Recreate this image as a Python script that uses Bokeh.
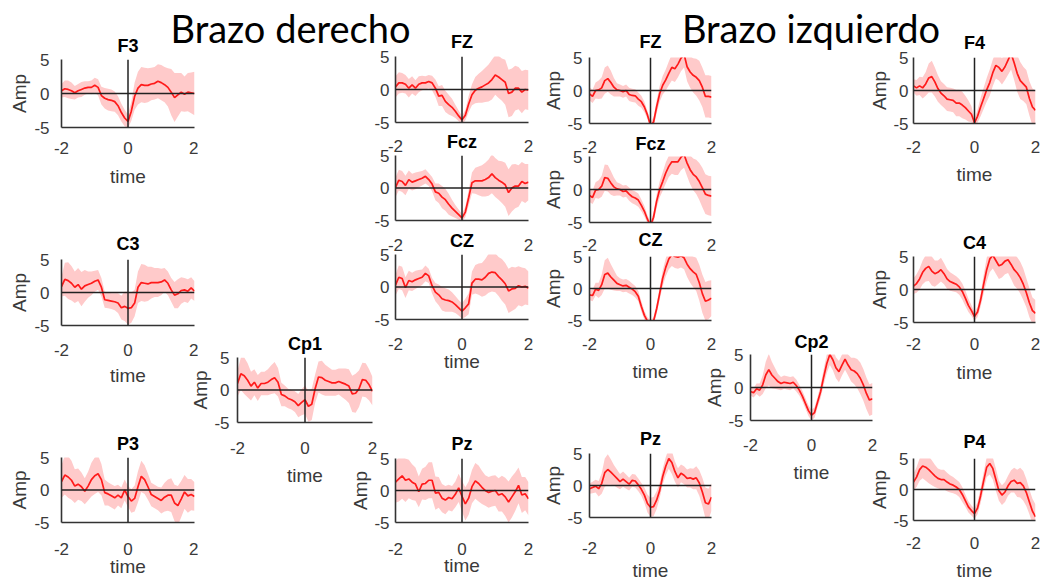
from bokeh.plotting import figure
from bokeh.layouts import column, row
from bokeh.models import Label, Span, ColumnDataSource, FixedTicker, Range1d
from bokeh.embed import file_html
from bokeh.resources import INLINE

TIME = [-2.0, -1.9, -1.8, -1.7, -1.6, -1.5, -1.4, -1.3, -1.2, -1.1, -1.0,
        -0.9, -0.8, -0.7, -0.6, -0.5, -0.4, -0.3, -0.2, -0.1,
        0.0, 0.1, 0.2, 0.3, 0.4, 0.5, 0.6, 0.7, 0.8, 0.9,
        1.0, 1.1, 1.2, 1.3, 1.4, 1.5, 1.6, 1.7, 1.8, 1.9, 2.0]
X_TICKS = [-2, 0, 2]
X_TICKS_STACKED = [-2, 2]
Y_TICKS = [-5, 0, 5]
GROUP_TITLES = ["Brazo derecho", "Brazo izquierdo"]

F3_MEAN = [0.4, 0.7, 0.6, 0.4, 0.1, 0.4, 0.6, 0.8, 0.9, 0.9, 1.2,
           0.9, -0.3, -0.7, -0.9, -1.0, -1.2, -1.8, -2.8, -3.6,
           -4.1, -2.6, -0.4, 0.8, 1.3, 1.2, 1.2, 1.4, 1.5, 1.8,
           1.6, 1.3, 0.9, 0.2, -0.6, -0.2, 0.2, -0.1, 0.2, 0.1, 0.0]
F3_SPREAD = [1.0, 1.2, 1.3, 1.2, 1.0, 1.0, 1.1, 1.0, 0.9, 1.0, 1.1,
             1.2, 1.3, 1.5, 1.6, 1.6, 1.5, 1.4, 1.3, 1.2,
             1.0, 1.4, 2.0, 2.4, 2.6, 2.6, 2.5, 2.4, 2.4, 2.5,
             2.6, 2.6, 2.8, 3.4, 3.6, 3.2, 2.8, 2.6, 2.8, 3.0, 3.2]

C3_MEAN = [0.9, 2.0, 1.8, 1.4, 0.8, 1.2, 0.5, 1.0, 1.2, 1.4, 1.7,
           1.9, 0.8, -1.1, -1.2, -1.3, -1.4, -1.6, -2.3, -2.1,
           -2.4, -2.3, -1.6, 0.8, 1.5, 1.4, 1.3, 1.5, 1.5, 1.5,
           1.6, 1.9, 1.4, 0.4, -0.4, -0.2, 0.3, 0.4, 0.2, 0.7, 0.2]
C3_SPREAD = [1.5, 2.5, 2.8, 2.6, 2.4, 2.5, 2.6, 2.4, 2.0, 1.8, 1.6,
             1.5, 1.4, 1.2, 1.2, 1.2, 1.3, 1.5, 1.8, 2.2,
             2.5, 2.3, 2.0, 2.4, 2.8, 2.8, 2.6, 2.4, 2.2, 2.2,
             2.0, 1.8, 1.8, 1.8, 2.0, 2.2, 2.0, 1.8, 1.8, 1.6, 1.5]

P3_MEAN = [1.3, 2.3, 2.0, 1.5, 0.6, 0.9, 0.5, -0.2, 0.6, 1.6, 2.2,
           2.5, 1.6, -0.4, -0.6, -0.9, -1.2, -0.8, -1.2, 0.0,
           -1.0, -1.7, -1.3, 0.5, 2.1, 1.6, 0.5, -0.7, -1.0, -1.3,
           -1.6, -1.1, -0.8, -0.8, -2.0, -2.4, -1.4, -0.3, -0.9, -0.7, -1.0]
P3_SPREAD = [2.5, 3.0, 3.2, 3.0, 2.6, 2.4, 2.2, 2.0, 2.2, 2.6, 2.8,
             2.8, 2.4, 2.0, 1.8, 1.8, 1.8, 1.6, 1.6, 1.6,
             1.6, 1.8, 2.0, 2.4, 2.4, 2.2, 2.0, 1.8, 1.8, 1.8,
             2.0, 2.2, 2.4, 2.6, 2.8, 3.0, 2.8, 2.6, 2.6, 2.4, 2.2]

CP1_MEAN = [1.0, 2.5, 2.2, 1.5, 0.6, 1.2, 0.3, 1.0, 1.0, 1.2, 1.6,
            1.9, 1.2, -0.7, -0.9, -1.3, -1.5, -1.8, -2.4, -1.9,
            -1.5, -2.5, -2.2, 0.2, 2.0, 1.9, 1.5, 1.3, 1.1, 1.1,
            1.3, 1.1, 0.9, 0.6, -0.6, -0.5, 0.2, 1.6, 1.5, 0.8, -0.2]
CP1_SPREAD = [2.0, 2.5, 2.8, 2.6, 2.2, 2.0, 2.0, 1.8, 1.8, 2.0, 2.2,
              2.4, 2.2, 1.8, 1.6, 1.5, 1.5, 1.6, 1.8, 2.0,
              2.2, 2.4, 2.4, 2.2, 2.4, 2.6, 2.4, 2.2, 2.0, 2.0,
              2.0, 2.2, 2.4, 2.6, 2.8, 3.0, 2.8, 2.6, 2.6, 2.4, 2.2]

FZ_R_MEAN = [0.4, 1.0, 1.0, 0.8, 0.2, 0.7, 0.2, 0.8, 1.0, 1.0, 1.2,
             1.0, 0.2, -1.0, -0.9, -1.8, -2.3, -2.7, -3.3, -4.0,
             -4.6, -3.9, -2.2, -0.8, -0.1, 0.2, 0.4, 0.7, 1.0, 1.5,
             2.2, 1.9, 1.5, 1.1, -0.6, -0.4, 0.2, 0.2, -0.4, 0.0, -0.1]
FZ_R_SPREAD = [1.6, 1.6, 1.5, 1.4, 1.4, 1.3, 1.2, 1.2, 1.1, 1.0, 1.0,
               1.1, 1.3, 1.5, 1.6, 1.6, 1.5, 1.3, 1.0, 0.8,
               0.6, 0.8, 1.2, 1.6, 2.0, 2.2, 2.4, 2.6, 2.8, 3.0,
               3.0, 3.2, 3.2, 3.4, 3.6, 3.6, 3.4, 3.2, 3.2, 3.0, 3.0]

FCZ_R_MEAN = [0.1, 1.2, 1.0, 0.4, 1.3, 0.9, 1.1, 1.3, 1.5, 1.8, 1.3,
              0.6, -0.6, -0.8, -1.4, -1.8, -2.5, -3.1, -3.6, -4.1,
              -4.6, -3.7, -1.5, 0.8, 1.1, 1.1, 1.1, 1.3, 1.6, 2.2,
              1.6, 1.2, 0.9, 0.5, -0.7, 0.0, 0.3, 0.3, 1.0, 0.7, 0.9]
FCZ_R_SPREAD = [1.5, 1.6, 1.6, 1.5, 1.4, 1.3, 1.3, 1.2, 1.1, 1.1, 1.0,
                1.1, 1.3, 1.5, 1.7, 1.7, 1.6, 1.3, 1.0, 0.8,
                0.6, 0.8, 1.2, 1.6, 2.0, 2.2, 2.4, 2.6, 2.8, 3.0,
                3.0, 3.0, 3.2, 3.4, 3.6, 3.6, 3.4, 3.2, 3.0, 3.0, 2.8]

CZ_R_MEAN = [0.3, 1.5, 1.3, -0.1, 1.0, 0.8, 1.1, 1.3, 1.5, 2.1, 1.7,
             0.2, -0.8, -1.2, -1.8, -2.0, -2.1, -2.3, -2.7, -3.2,
             -3.7, -3.2, -2.6, 0.6, 1.2, 1.2, 1.1, 1.5, 2.1, 2.3,
             2.2, 1.6, 1.1, 0.5, -0.6, -0.3, -0.2, 0.2, 0.0, 0.1, -0.2]
CZ_R_SPREAD = [1.6, 1.8, 1.8, 1.6, 1.5, 1.4, 1.4, 1.3, 1.2, 1.2, 1.1,
               1.2, 1.4, 1.6, 1.8, 1.8, 1.7, 1.5, 1.3, 1.2,
               1.2, 1.4, 1.6, 1.8, 2.2, 2.4, 2.6, 2.8, 3.0, 3.0,
               3.0, 3.0, 3.2, 3.2, 3.4, 3.4, 3.2, 3.0, 3.0, 2.8, 2.6]

PZ_R_MEAN = [1.3, 1.8, 2.3, 1.6, 1.8, 1.3, 1.0, -0.2, 1.0, 1.1, 1.6,
             1.6, -0.4, -0.3, -1.2, -1.5, -1.1, -1.3, -0.6, 0.4,
             -0.9, -2.1, -1.2, 0.6, 1.5, 1.1, 0.5, 0.0, -0.3, -0.1,
             0.0, -0.7, -0.5, -1.0, -1.8, -1.0, -0.2, 0.8, -0.7, -0.5, -1.3]
PZ_R_SPREAD = [3.2, 3.5, 3.6, 3.4, 3.0, 2.8, 2.6, 2.4, 2.4, 2.6, 2.8,
               2.8, 2.6, 2.4, 2.2, 2.2, 2.0, 2.0, 2.0, 2.2,
               2.4, 2.6, 2.6, 2.6, 2.8, 2.8, 2.6, 2.4, 2.4, 2.4,
               2.4, 2.6, 2.8, 3.0, 3.2, 3.2, 3.0, 2.8, 2.8, 2.6, 2.6]

FZ_L_MEAN = [-0.5, -0.9, 0.0, 0.1, 0.4, 1.5, 1.8, 1.2, 0.5, 0.1, 0.0,
             -0.2, 0.0, -0.6, -0.75, -0.8, -1.3, -1.7, -2.5, -3.7,
             -5.3, -4.8, -2.5, -0.5, 0.8, 1.6, 2.6, 3.5, 3.3, 4.0,
             4.9, 5.5, 3.6, 2.8, 2.3, 2.0, 1.5, 0.5, -0.9, -0.9, -1.0]
FZ_L_SPREAD = [1.0, 1.0, 1.2, 1.4, 1.6, 2.0, 2.0, 1.8, 1.4, 1.0, 0.9,
               0.9, 0.9, 1.0, 1.0, 1.0, 1.0, 0.9, 0.8, 0.6,
               0.5, 0.8, 1.0, 1.2, 1.4, 1.6, 1.8, 2.0, 2.0, 2.0,
               2.0, 2.0, 2.2, 2.4, 2.6, 2.8, 3.0, 3.0, 3.2, 3.2, 3.2]

FCZ_L_MEAN = [-0.9, -1.2, -0.1, 0.0, 0.5, 1.8, 1.7, 1.0, 0.4, 0.1, 0.0,
              -0.3, -0.2, -0.7, -1.1, -1.3, -1.6, -2.4, -3.3, -4.5,
              -5.5, -4.2, -1.8, 0.0, 1.2, 2.5, 3.5, 4.2, 4.2, 4.2,
              4.9, 5.3, 4.0, 3.0, 2.3, 1.9, 1.2, 0.3, -0.7, -0.9, -1.0]
FCZ_L_SPREAD = [1.0, 1.0, 1.2, 1.4, 1.6, 2.0, 2.0, 1.8, 1.4, 1.0, 0.9,
                0.9, 0.9, 1.0, 1.0, 1.0, 1.0, 0.9, 0.8, 0.6,
                0.5, 0.8, 1.0, 1.2, 1.4, 1.6, 1.6, 1.8, 2.0, 2.0,
                2.0, 2.0, 2.0, 2.2, 2.4, 2.6, 2.8, 3.0, 3.0, 3.0, 3.0]

CZ_L_MEAN = [-1.0, -1.1, -0.1, -0.3, 0.6, 2.2, 2.4, 1.8, 1.3, 0.8, 0.6,
             0.4, 0.5, 0.2, -0.1, -0.5, -1.2, -2.8, -4.2, -5.1,
             -5.5, -5.1, -3.2, -0.8, 1.6, 3.3, 4.6, 5.3, 5.0, 4.9,
             5.1, 4.8, 3.8, 3.1, 2.6, 2.2, 0.9, -0.8, -2.0, -1.8, -1.5]
CZ_L_SPREAD = [0.8, 0.9, 1.0, 1.2, 1.6, 2.2, 2.4, 2.0, 1.6, 1.2, 1.0,
               1.0, 1.0, 1.0, 0.9, 0.9, 0.8, 0.8, 0.7, 0.6,
               0.5, 0.6, 0.8, 1.0, 1.2, 1.4, 1.6, 1.8, 1.8, 1.8,
               1.8, 1.8, 2.0, 2.2, 2.4, 2.6, 2.8, 3.0, 3.0, 3.0, 2.8]

PZ_L_MEAN = [-0.5, -0.3, -0.1, -0.5, 0.3, 2.0, 2.5, 2.1, 1.6, 1.1, 0.6,
             1.0, 0.6, 0.2, 0.8, 0.7, 0.1, -0.6, -1.5, -2.8,
             -3.4, -3.3, -2.3, -0.8, 1.4, 3.0, 4.2, 3.6, 2.2, 1.2,
             1.9, 1.6, 1.1, 1.2, 1.0, 1.2, 0.4, -1.0, -2.7, -2.9, -1.8]
PZ_L_SPREAD = [0.8, 0.9, 1.0, 1.2, 1.6, 2.2, 2.4, 2.0, 1.6, 1.4, 1.2,
               1.2, 1.1, 1.0, 1.0, 1.0, 1.0, 1.0, 1.2, 1.4,
               1.5, 1.5, 1.4, 1.2, 1.2, 1.4, 1.6, 1.8, 1.6, 1.5,
               1.4, 1.4, 1.4, 1.5, 1.6, 1.8, 2.0, 2.2, 2.4, 2.4, 2.2]

CP2_MEAN = [-0.6, -0.8, -0.2, -0.4, 0.4, 1.9, 2.7, 1.9, 1.4, 0.9, 0.6,
            0.8, 0.7, 0.6, 0.8, 0.3, -0.4, -1.3, -2.4, -3.5,
            -4.2, -3.8, -2.2, -0.6, 1.6, 3.6, 5.0, 4.2, 3.0, 2.4,
            3.4, 4.3, 3.4, 2.7, 2.5, 2.1, 1.4, 0.4, -0.9, -1.9, -1.7]
CP2_SPREAD = [0.6, 0.7, 0.8, 1.0, 1.4, 2.0, 2.4, 2.0, 1.6, 1.2, 1.0,
              1.0, 1.0, 1.0, 0.9, 0.9, 0.8, 0.8, 0.8, 0.8,
              0.8, 0.8, 0.8, 1.0, 1.2, 1.4, 1.6, 1.6, 1.6, 1.6,
              1.6, 1.6, 1.6, 1.8, 2.0, 2.2, 2.4, 2.4, 2.4, 2.4, 2.4]

F4_MEAN = [0.7, 0.4, 0.7, 0.4, 1.0, 1.9, 2.1, 1.3, 0.3, -0.4, -0.8,
           -1.3, -1.4, -1.5, -1.9, -1.9, -2.2, -2.6, -3.1, -3.6,
           -4.9, -3.9, -2.5, -1.2, 0.1, 1.2, 2.7, 3.8, 3.5, 2.9,
           3.6, 4.6, 5.6, 4.2, 2.6, 1.5, 1.0, 0.5, -1.2, -2.5, -3.0]
F4_SPREAD = [1.0, 1.2, 1.4, 1.6, 1.8, 2.2, 2.4, 2.2, 2.0, 1.8, 1.8,
             1.8, 1.8, 1.8, 2.0, 2.0, 2.0, 1.8, 1.6, 1.2,
             0.6, 1.0, 1.4, 1.6, 1.8, 2.0, 2.0, 2.0, 2.0, 2.0,
             2.0, 2.2, 2.4, 2.6, 2.8, 2.8, 2.6, 2.6, 2.6, 2.8, 3.0]

C4_MEAN = [0.5, 0.9, 1.6, 2.6, 3.2, 3.5, 2.8, 2.4, 2.6, 3.0, 2.4,
           1.6, 1.2, 1.0, 0.8, 0.4, -0.3, -1.3, -2.4, -3.2,
           -4.1, -3.4, -1.6, 0.8, 3.0, 4.6, 5.2, 4.4, 3.6, 3.8,
           4.3, 4.5, 3.8, 3.0, 2.5, 1.8, 0.8, -0.5, -2.0, -3.2, -3.6]
C4_SPREAD = [1.2, 1.4, 1.6, 1.8, 2.0, 2.2, 2.2, 2.0, 1.8, 1.8, 1.6,
             1.5, 1.4, 1.3, 1.2, 1.2, 1.2, 1.2, 1.0, 0.8,
             0.6, 0.8, 1.0, 1.4, 1.8, 2.0, 2.0, 2.0, 2.0, 2.0,
             2.0, 2.0, 2.2, 2.4, 2.4, 2.4, 2.4, 2.2, 2.2, 2.0, 2.0]

P4_MEAN = [1.2, 2.0, 3.2, 3.8, 3.6, 3.2, 2.7, 2.2, 1.8, 1.6, 1.6,
           1.2, 0.9, 0.7, 0.4, 0.0, -0.8, -1.8, -2.8, -3.4,
           -3.9, -3.0, -1.0, 1.4, 3.6, 4.2, 3.4, 1.6, -0.2, -0.9,
           -0.4, 0.6, 1.3, 1.5, 1.0, 1.1, 0.6, -0.5, -2.0, -3.5, -4.4]
P4_SPREAD = [1.4, 1.6, 1.8, 2.0, 2.2, 2.2, 2.0, 1.8, 1.6, 1.6, 1.6,
             1.5, 1.4, 1.3, 1.2, 1.2, 1.2, 1.0, 0.9, 0.8,
             0.8, 1.0, 1.2, 1.4, 1.6, 1.8, 1.8, 1.8, 1.6, 1.6,
             1.6, 1.6, 1.8, 2.0, 2.2, 2.4, 2.4, 2.2, 2.0, 2.0, 2.0]

FONT = "Liberation Sans"
RED = "#ff1a1a"
BAND = "#ffcaca"
AXIS = "#333333"
ZERO = "#222222"
TXT = "#3a3a3a"
TOP_BORDER = 36
HEADER_H = 56
BODY_TOP = 36


def panel(title, mean, spread, w, fh, bl, br, bb, title_standoff,
          stacked=False, xs=16, xls=6, amp=True, ys=10, yls=0):
    p = figure(width=w, height=TOP_BORDER + fh + bb,
               x_range=Range1d(-2, 2), y_range=Range1d(-5, 5),
               output_backend="svg", toolbar_location=None,
               min_border_left=bl, min_border_right=br,
               min_border_top=TOP_BORDER, min_border_bottom=bb)
    p.background_fill_color = None
    p.border_fill_color = None
    p.outline_line_color = None
    p.grid.visible = False
    p.title.text = title
    p.title.align = "center"
    p.title.text_font = FONT
    p.title.text_font_size = "18px"
    p.title.text_font_style = "bold"
    p.title.text_color = "black"
    p.title.standoff = title_standoff
    lo = [m - s for m, s in zip(mean, spread)]
    hi = [m + s for m, s in zip(mean, spread)]
    src = ColumnDataSource(dict(t=TIME, m=mean, lo=lo, hi=hi))
    p.varea(x="t", y1="lo", y2="hi", source=src, fill_color=BAND, fill_alpha=1.0)
    p.line(x="t", y="m", source=src, line_color=RED, line_width=1.7)
    p.add_layout(Span(location=0, dimension="width", line_color=ZERO, line_width=1.5))
    p.add_layout(Span(location=0, dimension="height", line_color=ZERO, line_width=1.5))
    p.xaxis.ticker = FixedTicker(ticks=X_TICKS_STACKED if stacked else X_TICKS)
    p.yaxis.ticker = FixedTicker(ticks=Y_TICKS)
    p.xaxis.major_label_overrides = {-2: "-2"}
    p.yaxis.major_label_overrides = {-5: "-5"}
    for ax in (p.xaxis[0], p.yaxis[0]):
        ax.axis_line_color = AXIS
        ax.axis_line_width = 1.6
        ax.major_tick_line_color = None
        ax.minor_tick_line_color = None
        ax.major_tick_out = 0
        ax.major_tick_in = 0
        ax.minor_tick_out = 0
        ax.major_label_text_font = FONT
        ax.major_label_text_font_size = "17px"
        ax.major_label_text_color = TXT
        ax.axis_label_text_font = FONT
        ax.axis_label_text_font_size = "19px"
        ax.axis_label_text_font_style = "normal"
        ax.axis_label_text_color = TXT
    xa, ya = p.xaxis[0], p.yaxis[0]
    xa.major_label_standoff = xs
    if not stacked:
        xa.axis_label = "time"
        xa.axis_label_standoff = xls
    ya.major_label_standoff = ys
    if amp:
        ya.axis_label = "Amp"
        ya.axis_label_standoff = yls
    return p


def stack(figs_with_frame_tops, left_margin):
    """Place panels of one column so that each frame top lands at its page row."""
    prev_bottom = BODY_TOP
    for fig, frame_top in figs_with_frame_tops:
        fig_top = frame_top - TOP_BORDER
        fig.margin = (fig_top - prev_bottom, 0, 0, 0)
        prev_bottom = fig_top + fig.height
    return column([f for f, _ in figs_with_frame_tops], margin=(0, 0, 0, left_margin))


def header_part(text, w):
    hp = figure(width=w, height=HEADER_H, x_range=Range1d(0, w), y_range=Range1d(0, HEADER_H),
                output_backend="svg", toolbar_location=None, title=None,
                x_axis_type=None, y_axis_type=None,
                min_border_left=0, min_border_right=0, min_border_top=0, min_border_bottom=0)
    hp.background_fill_color = None
    hp.border_fill_color = None
    hp.outline_line_color = None
    hp.grid.visible = False
    hp.add_layout(Label(x=w / 2, y=HEADER_H - 27, text=text, text_font="Lato",
                        text_font_size="38px", text_color="black", text_align="center",
                        text_baseline="alphabetic"))
    return hp


header = row(header_part(GROUP_TITLES[0], 580), header_part(GROUP_TITLES[1], 461))

# column A: F3, C3, P3   (x 0..198)
f3 = panel("F3", F3_MEAN, F3_SPREAD, 198, 68, 61, 4, 68, 7, xs=14, xls=9, ys=12, yls=1)
c3 = panel("C3", C3_MEAN, C3_SPREAD, 198, 66, 61, 4, 65, 11, xs=18, xls=6, ys=12, yls=1)
p3 = panel("P3", P3_MEAN, P3_SPREAD, 198, 65, 61, 4, 61, 7, xs=20, xls=-2, ys=12, yls=1)
colA = stack([(f3, 59), (c3, 259), (p3, 457)], 0)

# column B: Cp1   (x 187..378)
cp1 = panel("Cp1", CP1_MEAN, CP1_SPREAD, 191, 65, 50, 6, 73, 8, xs=19, xls=8, ys=8, yls=0)
colB = stack([(cp1, 357)], -11)

# column C: FZ, Fcz, CZ, Pz of the right arm   (x 347..545)
fzr = panel("FZ", FZ_R_MEAN, FZ_R_SPREAD, 198, 66, 48, 17, 40, 9, stacked=True, amp=False, xs=17, ys=6)
fczr = panel("Fcz", FCZ_R_MEAN, FCZ_R_SPREAD, 198, 65, 48, 17, 42, 8, stacked=True, amp=False, xs=18, ys=6)
czr = panel("CZ", CZ_R_MEAN, CZ_R_SPREAD, 198, 66, 48, 17, 54, 7, xs=18, xls=-2, amp=False, ys=6)
pzr = panel("Pz", PZ_R_MEAN, PZ_R_SPREAD, 198, 64, 48, 17, 61, 9, xs=20, xls=-3, ys=6, yls=0)
colC = stack([(fzr, 56), (fczr, 155), (czr, 254), (pzr, 458)], -31)

# column D: FZ, Fcz, CZ, Pz of the left arm   (x 540..725)
fzl = panel("FZ", FZ_L_MEAN, FZ_L_SPREAD, 185, 66, 49, 14, 40, 11, stacked=True, xs=17, ys=7, yls=0)
fczl = panel("Fcz", FCZ_L_MEAN, FCZ_L_SPREAD, 185, 66, 49, 14, 40, 6, stacked=True, xs=16, ys=7, yls=0)
czl = panel("CZ", CZ_L_MEAN, CZ_L_SPREAD, 185, 65, 49, 14, 63, 13, xs=17, xls=8, ys=7, yls=0)
pzl = panel("Pz", PZ_L_MEAN, PZ_L_SPREAD, 185, 66, 49, 14, 64, 9, xs=24, xls=3, ys=7, yls=0)
colD = stack([(fzl, 57), (fczl, 156), (czl, 256), (pzl, 453)], -5)

# column E: Cp2   (x 700..885)
cp2 = panel("Cp2", CP2_MEAN, CP2_SPREAD, 185, 66, 50, 13, 66, 6, xs=18, xls=8, ys=7, yls=0)
colE = stack([(cp2, 354)], -25)

# column F: F4, C4, P4   (x 866..1041)
f4 = panel("F4", F4_MEAN, F4_SPREAD, 175, 66, 47, 6, 64, 10, xs=17, xls=8, ys=5, yls=0)
c4 = panel("C4", C4_MEAN, C4_SPREAD, 175, 67, 47, 6, 62, 7, xs=15, xls=9, ys=5, yls=0)
p4 = panel("P4", P4_MEAN, P4_SPREAD, 175, 64, 47, 6, 61, 13, xs=16, xls=8, ys=5, yls=0)
colF = stack([(f4, 57), (c4, 256), (p4, 458)], -19)

body = row(colA, colB, colC, colD, colE, colF, margin=(BODY_TOP - HEADER_H, 0, 0, 0))
root = column(header, body)

open("out.html", "w").write(file_html(root, INLINE))
